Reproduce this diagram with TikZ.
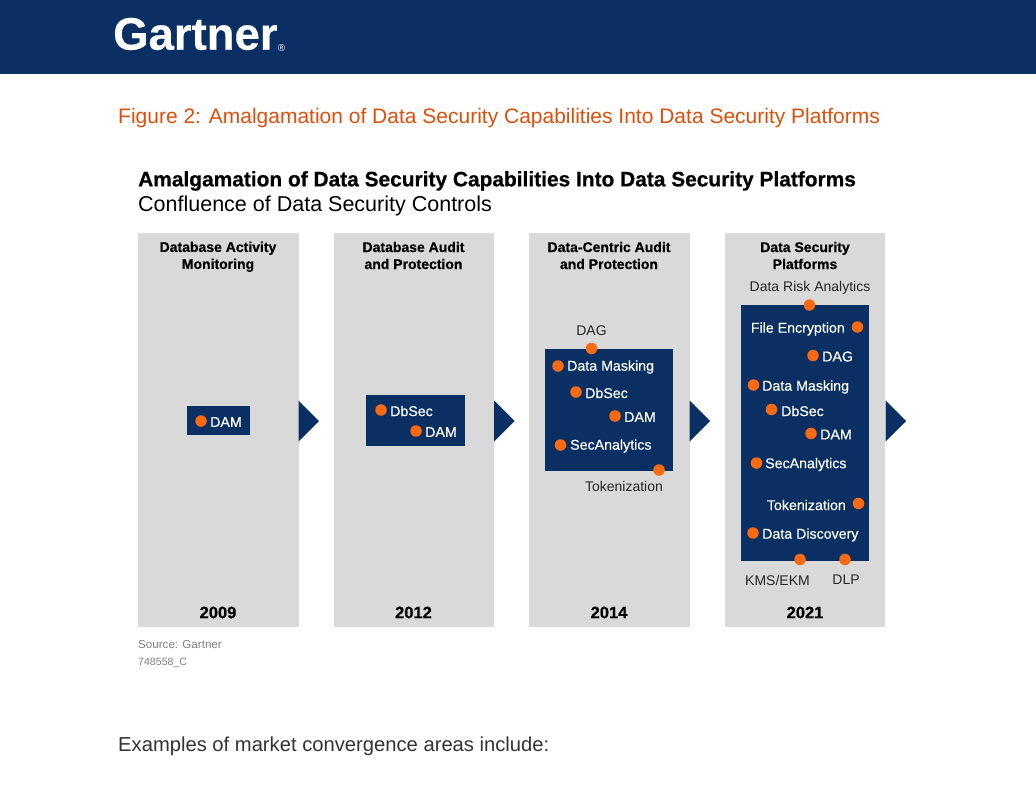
\documentclass[tikz,border=0pt]{standalone}
\usepackage{fontspec}
\setmainfont{Liberation Sans}
\newfontfamily\rob{Liberation Sans}
\newfontfamily\lbl{Liberation Sans}
\newfontfamily\wlf[FakeBold=0.35]{Liberation Sans}
\newfontfamily\hvy[FakeBold=0.6]{Liberation Sans Bold}
\newfontfamily\logof[FakeBold=0.4]{Liberation Sans Bold}
\definecolor{navy}{HTML}{0A2F63}
\definecolor{org}{HTML}{F96A12}
\definecolor{panelg}{HTML}{D9D9D9}
\definecolor{figo}{HTML}{DD4F0B}
\tikzset{
 x=1pt,y=-1pt,
 panel/.style={fill=panelg,draw=none},
 core/.style={fill=navy,draw=none},
 dot/.style={circle,fill=org,draw=none,minimum size=11.5pt,inner sep=0pt},
 wl/.style={font=\fontsize{14.2}{14}\wlf\selectfont,text=white,inner sep=0pt,anchor=west},
 ol/.style={font=\fontsize{14}{14}\lbl\selectfont,text=black!85,inner sep=0pt},
 hd/.style={font=\fontsize{14}{17}\hvy\selectfont,text=black,inner sep=0pt,align=center},
 yr/.style={font=\fontsize{16.5}{16}\hvy\selectfont,text=black,inner sep=0pt},
 arr/.style={fill=navy,draw=none}
}
\begin{document}
\begin{tikzpicture}
\useasboundingbox (0,0) rectangle (1036,800);
\fill[white] (0,0) rectangle (1036,800);
\fill[navy] (0,0) rectangle (1036,74);
\node[anchor=west,inner sep=0pt,text=white,font=\fontsize{45.5}{46}\logof\selectfont] (logo) at (113,34) {Gartner};
\node[anchor=west,inner sep=0pt,text=white,font=\fontsize{10}{10}\lbl\selectfont] (reg) at (logo.east |- 0,48) {®};
\node[anchor=west,inner sep=0pt,text=figo,font=\fontsize{21}{22}\rob\selectfont] (fig) at (118,118) {Figure 2: Amalgamation of Data Security Capabilities Into Data Security Platforms};
\node[anchor=west,inner sep=0pt,font=\fontsize{20.9}{22}\hvy\selectfont] (t1) at (138,181) {Amalgamation of Data Security Capabilities Into Data Security Platforms};
\node[anchor=west,inner sep=0pt,font=\fontsize{21.5}{22}\lbl\selectfont] (t2) at (138,206) {Confluence of Data Security Controls};
\foreach \x in {138,333.5,529,724.5}{
 \path[panel] (\x,233) rectangle ++(160.5,393.5);
}
\foreach \x in {298.5,494,689.5,885.5}{
 \path[arr] (\x,400.5) -- ++(20.5,20.5) -- ++(-20.5,20.5) -- cycle;
}
\node[hd] (h1) at (218,256.8) {Database Activity\\Monitoring};
\node[hd] (h2) at (413.5,255.5) {Database Audit\\and Protection};
\node[hd] (h3) at (609,255.5) {Data-Centric Audit\\and Protection};
\node[hd] (h4) at (805,255.5) {Data Security\\Platforms};
\node[yr] (y1) at (218,612.5) {2009};
\node[yr] (y2) at (413.5,612.5) {2012};
\node[yr] (y3) at (609,612.5) {2014};
\node[yr] (y4) at (805,612.5) {2021};
\path[core] (186.5,405.5) rectangle (250,435);
\path[core] (366,395) rectangle (465,445.5);
\path[core] (545,348.5) rectangle (672.5,470.5);
\path[core] (741,304.5) rectangle (868.5,560.5);
\node[dot] (d1) at (201,421) {}; \node[wl] (l1) at (210,422) {DAM};
\node[dot] (d2) at (381,410) {}; \node[wl] (l2) at (390,411) {DbSec};
\node[dot] (d3) at (416,431) {}; \node[wl] (l3) at (425,432) {DAM};
\node[dot] (d4) at (591.5,348.5) {}; \node[ol] (l4) at (591.5,330.5) {DAG};
\node[dot] (d5) at (558,366) {}; \node[wl] (l5) at (567,367) {Data Masking};
\node[dot] (d6) at (576,392) {}; \node[wl] (l6) at (585,393) {DbSec};
\node[dot] (d7) at (615,416) {}; \node[wl] (l7) at (624,417) {DAM};
\node[dot] (d8) at (560.5,445) {}; \node[wl] (l8) at (570,446) {SecAnalytics};
\node[dot] (d9) at (659,470) {}; \node[ol] (l9) at (624,486.5) {Tokenization};
\node[dot] (e1) at (809.5,305) {}; \node[ol] (m1) at (810,288) {Data Risk Analytics};
\node[dot] (e2) at (857.5,327) {}; \node[wl,anchor=east] (m2) at (845,329) {File Encryption};
\node[dot] (e3) at (813,355.5) {}; \node[wl] (m3) at (822,356.5) {DAG};
\node[dot] (e4) at (753.5,385) {}; \node[wl] (m4) at (762,387) {Data Masking};
\node[dot] (e5) at (771.5,409.5) {}; \node[wl] (m5) at (781,411) {DbSec};
\node[dot] (e6) at (811,433.5) {}; \node[wl] (m6) at (820,434.5) {DAM};
\node[dot] (e7) at (756.5,463) {}; \node[wl] (m7) at (765,464.5) {SecAnalytics};
\node[dot] (e8) at (858.5,503.5) {}; \node[wl,anchor=east] (m8) at (846,505) {Tokenization};
\node[dot] (e9) at (753,533) {}; \node[wl] (m9) at (762,535) {Data Discovery};
\node[dot] (e10) at (800,559.5) {}; \node[ol] (m10) at (777.5,580) {KMS/EKM};
\node[dot] (e11) at (845,559.5) {}; \node[ol] (m11) at (846,580) {DLP};
\node[anchor=west,inner sep=0pt,text=black!50,font=\fontsize{11.6}{12}\rob\selectfont] (s1) at (138,644) {Source: Gartner};
\node[anchor=west,inner sep=0pt,text=black!50,font=\fontsize{10.6}{12}\rob\selectfont] (s2) at (138,662.5) {748558\_C};
\node[anchor=west,inner sep=0pt,text=black!80,font=\fontsize{20.2}{22}\rob\selectfont] (ex) at (118,746.5) {Examples of market convergence areas include:};
\end{tikzpicture}
\end{document}
